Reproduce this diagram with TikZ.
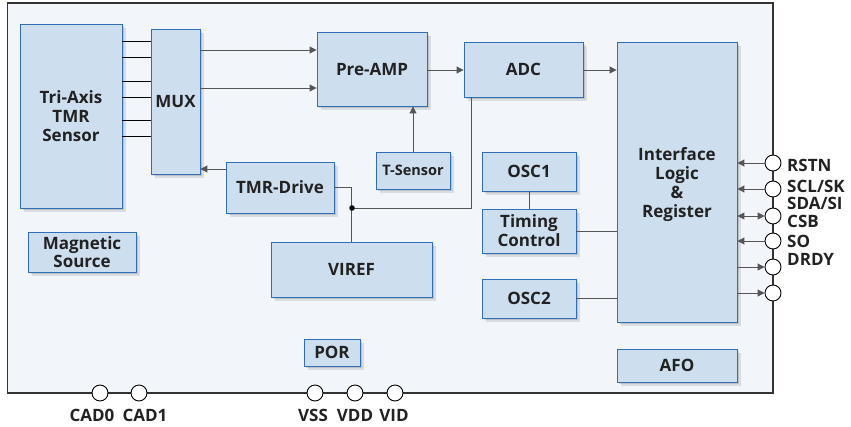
\documentclass[tikz,border=0pt]{standalone}
\usepackage{fontspec}
\setmainfont{Open Sans}
\usetikzlibrary{arrows.meta,shadows}
\definecolor{boxfill}{HTML}{CDDEEE}
\definecolor{boxline}{HTML}{2F6FB5}
\definecolor{chipfill}{HTML}{F2F6FA}
\definecolor{chipline}{HTML}{333333}
\definecolor{txt}{HTML}{222222}
\definecolor{wire}{HTML}{555555}
\tikzset{
  blk/.style={draw=boxline, line width=0.9pt, fill=boxfill, text=txt,
    font=\bfseries\fontsize{17}{19}\selectfont, align=center, inner sep=0pt,
    drop shadow={shadow xshift=4pt, shadow yshift=-4pt, opacity=0.10, fill=black},
    drop shadow={shadow xshift=2pt, shadow yshift=-2pt, opacity=0.12, fill=black}},
  wireline/.style={draw=wire, line width=1pt},
  arr/.style={wireline, -{Triangle[length=7pt,width=7pt]}},
  darr/.style={wireline, {Triangle[length=7pt,width=7pt]}-{Triangle[length=7pt,width=7pt]}},
  pin/.style={circle, draw=black, line width=0.9pt, fill=white, minimum size=16pt, inner sep=0pt},
  pinlabel/.style={text=txt, font=\bfseries\fontsize{17}{19}\selectfont, inner sep=0pt},
}
\begin{document}
\begin{tikzpicture}[x=1pt,y=-1pt]
\useasboundingbox (0,0) rectangle (851,426);
% chip body
\draw[chipline, line width=1.6pt, fill=chipfill] (7.5,3) rectangle (773,393);
% blocks
\node[blk, minimum width=102pt, minimum height=184pt] (tri) at (71,116) {Tri-Axis\\TMR\\Sensor};
\node[blk, minimum width=49pt, minimum height=145pt] (mux) at (175.5,101.5) {MUX};
\node[blk, minimum width=110pt, minimum height=74pt] (pre) at (372,69) {Pre-AMP};
\node[blk, minimum width=119pt, minimum height=55pt] (adc) at (523.5,69.5) {ADC};
\node[blk, minimum width=120pt, minimum height=280pt] (if) at (677,182) {};
\node[text=txt, font=\bfseries\fontsize{17}{19}\selectfont, align=center] (iftext) at (677,185) {Interface\\Logic\\\&\\Register};
\node[blk, minimum width=74pt, minimum height=37pt, font=\bfseries\fontsize{14.5}{16}\selectfont] (ts) at (413,170.5) {T-Sensor};
\node[blk, minimum width=94pt, minimum height=39pt] (osc1) at (529,171.5) {OSC1};
\node[blk, minimum width=94pt, minimum height=44pt] (tim) at (529,231) {Timing\\Control};
\node[blk, minimum width=94pt, minimum height=39pt] (osc2) at (529,298.5) {OSC2};
\node[blk, minimum width=108pt, minimum height=51pt] (drv) at (280,187.5) {TMR-Drive};
\node[blk, minimum width=161pt, minimum height=55pt] (vref) at (351.5,269.5) {VIREF};
\node[blk, minimum width=108pt, minimum height=40pt, font=\bfseries\fontsize{17}{16}\selectfont] (mag) at (82,252) {Magnetic\\Source};
\node[blk, minimum width=56pt, minimum height=27pt] (por) at (332,352.5) {POR};
\node[blk, minimum width=120pt, minimum height=33pt] (afo) at (677,365.5) {AFO};
% sensor to mux
\foreach \yy in {41,57,81,97,120,136}
  \draw[draw=black, line width=0.9pt] (tri.east |- 0,\yy) -- (mux.west |- 0,\yy);
% mux to pre-amp
\draw[arr] (mux.east |- 0,50) -- (pre.west |- 0,50);
\draw[arr] (mux.east |- 0,88) -- (pre.west |- 0,88);
% pre-amp to adc, adc to interface
\draw[arr] (pre.east |- 0,70) -- (adc.west |- 0,70);
\draw[arr] (adc.east |- 0,70) -- (if.west |- 0,70);
% t-sensor to pre-amp
\draw[arr] (ts.north) -- (ts.north |- pre.south);
% tmr-drive to mux
\draw[arr] (drv.west |- 0,169) -- (mux.east |- 0,169);
% vref network
\coordinate (J) at (352,208);
\draw[wireline] (drv.east) -| (vref.north);
\draw[wireline] ([xshift=8pt]adc.south west) |- (J);
\fill[black] (J) circle (2.8pt);
% timing
\draw[wireline] (osc1.south) -- (tim.north);
\draw[wireline] (tim.east) -- (tim.east -| if.west);
\draw[wireline] (osc2.east) -- (osc2.east -| if.west);
% right pins
\node[pin] (p1) at (773,163) {};
\node[pin] (p2) at (773,189) {};
\node[pin] (p3) at (773,216) {};
\node[pin] (p4) at (773,241) {};
\node[pin] (p5) at (773,267) {};
\node[pin] (p6) at (773,293) {};
\draw[arr] (p1.west) -- (p1 -| if.east);
\draw[arr] (p2.west) -- (p2 -| if.east);
\draw[darr] (p3.west) -- (p3 -| if.east);
\draw[arr] (p4.west) -- (p4 -| if.east);
\draw[arr] (p5 -| if.east) -- (p5.west);
\draw[arr] (p6 -| if.east) -- (p6.west);
\node[pinlabel, anchor=west] (lrstn) at (787,165) {RSTN};
\node[pinlabel, anchor=west] (lscl) at (787,186) {SCL/SK};
\node[pinlabel, anchor=west] (lsda) at (787,203) {SDA/SI};
\node[pinlabel, anchor=west] (lcsb) at (787,221) {CSB};
\node[pinlabel, anchor=west] (lso) at (787,241) {SO};
\node[pinlabel, anchor=west] (ldrdy) at (787,259) {DRDY};
% bottom pins
\node[pin] (b1) at (100,393) {};
\node[pin] (b2) at (139,393) {};
\node[pin] (b3) at (315,393) {};
\node[pin] (b4) at (355,393) {};
\node[pin] (b5) at (395,393) {};
\node[pinlabel] (lcad0) at (92,415) {CAD0};
\node[pinlabel] (lcad1) at (145,415) {CAD1};
\node[pinlabel] (lvss) at (313,415) {VSS};
\node[pinlabel] (lvdd) at (355,415) {VDD};
\node[pinlabel] (lvid) at (394,415) {VID};
\end{tikzpicture}
\end{document}
